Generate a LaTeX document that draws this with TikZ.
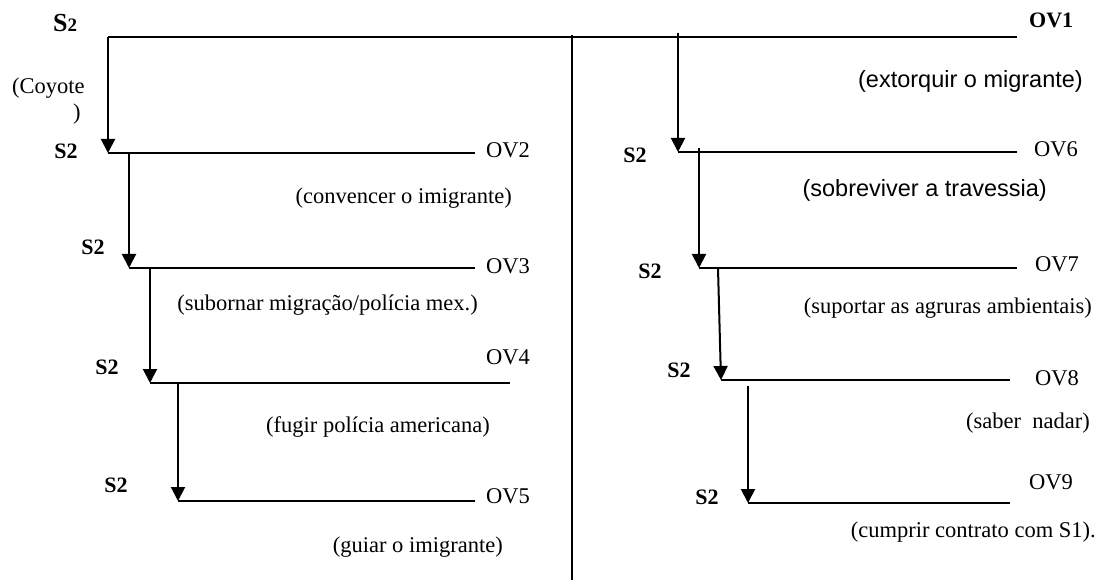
\documentclass[tikz,border=0pt]{standalone}
\usepackage{fontspec}
\setmainfont{Liberation Serif}
\newfontfamily\arialfont{Liberation Sans}
\usetikzlibrary{arrows.meta}
\begin{document}
\begin{tikzpicture}[x=1pt,y=-1pt,
  ln/.style={line width=2pt},
  arr/.style={line width=2pt,-{Triangle[width=14pt,length=14pt]}},
  txt/.style={inner sep=0pt,font=\fontsize{22.5}{26}\selectfont},
  sans/.style={inner sep=0pt,font=\arialfont\fontsize{23.5}{27}\selectfont},
  subj/.style={inner sep=0pt,font=\fontsize{22}{25}\selectfont\bfseries},
]
\useasboundingbox (0,0) rectangle (1109,580);

% coordinates
\coordinate (tl) at (108,37);
\coordinate (tr) at (1017,37);
\coordinate (dv1) at (572,35);
\coordinate (dv2) at (572,580);
% left chain
\coordinate (l2a) at (108,153);  \coordinate (l2b) at (475,153);
\coordinate (a2s) at (129,153);  \coordinate (l3a) at (129,268);  \coordinate (l3b) at (475,268);
\coordinate (a3s) at (150,268);  \coordinate (l4a) at (150,383);  \coordinate (l4b) at (510,383);
\coordinate (a4s) at (178,383);  \coordinate (l5a) at (178,501);  \coordinate (l5b) at (475,501);
% right chain
\coordinate (a5s) at (678,33);   \coordinate (l6a) at (678,152);  \coordinate (l6b) at (1017,152);
\coordinate (a6s) at (699,148);  \coordinate (l7a) at (699,268);  \coordinate (l7b) at (1017,268);
\coordinate (a7s) at (718,268);  \coordinate (l8a) at (721,380);  \coordinate (l8b) at (1010,380);
\coordinate (a8s) at (748,386);  \coordinate (l9a) at (748,503);  \coordinate (l9b) at (1010,503);

% lines
\draw[ln] (tl) -- (tr);
\draw[ln] (dv1) -- (dv2);
\draw[arr] (tl) -- (l2a);
\draw[ln] (l2a) -- (l2b);
\draw[arr] (a2s) -- (l3a);
\draw[ln] (l3a) -- (l3b);
\draw[arr] (a3s) -- (l4a);
\draw[ln] (l4a) -- (l4b);
\draw[arr] (a4s) -- (l5a);
\draw[ln] (l5a) -- (l5b);

\draw[arr] (a5s) -- (l6a);
\draw[ln] (l6a) -- (l6b);
\draw[arr] (a6s) -- (l7a);
\draw[ln] (l7a) -- (l7b);
\draw[arr] (a7s) -- (l8a);
\draw[ln] (l8a) -- (l8b);
\draw[arr] (a8s) -- (l9a);
\draw[ln] (l9a) -- (l9b);

% labels left
\node[inner sep=0pt,anchor=base west] (s0) at (53,32)
  {\fontsize{26}{28}\selectfont\bfseries S\fontsize{19}{22}\selectfont 2};
\node[txt,anchor=west] (coy) at (12,88) {(Coyote};
\node[txt,anchor=west] (coyp) at (73,114) {)};
\node[subj] (s1) at (66,151) {S2};
\node[subj] (s2) at (93,247) {S2};
\node[subj] (s3) at (107,367) {S2};
\node[subj] (s4) at (116,485) {S2};
\node[txt,anchor=west] (ov2) at (486,150) {OV2};
\node[txt,anchor=west] (ov3) at (486,266) {OV3};
\node[txt,anchor=west] (ov4) at (486,357) {OV4};
\node[txt,anchor=west] (ov5) at (486,496) {OV5};
\node[txt,anchor=east] (t2) at (512,198) {(convencer o imigrante)};
\node[txt,anchor=east] (t3) at (478,305) {(subornar migração/polícia mex.)};
\node[txt,anchor=east] (t4) at (490,427) {(fugir polícia americana)};
\node[txt,anchor=east] (t5) at (503,547) {(guiar o imigrante)};

% labels right
\node[subj,anchor=west] (ov1) at (1029,20) {OV1};
\node[sans,anchor=east] (t1) at (1083,81) {(extorquir o migrante)};
\node[subj] (s6) at (635,155) {S2};
\node[subj] (s7) at (650,271) {S2};
\node[subj] (s8) at (679,370) {S2};
\node[subj] (s9) at (707,497) {S2};
\node[txt,anchor=west] (ov6) at (1034,149) {OV6};
\node[txt,anchor=west] (ov7) at (1035,264) {OV7};
\node[txt,anchor=west] (ov8) at (1035,378) {OV8};
\node[txt,anchor=west] (ov9) at (1029,482) {OV9};
\node[sans,anchor=east] (t6) at (1047,190) {(sobreviver a travessia)};
\node[txt,anchor=east] (t7) at (1092,308) {(suportar as agruras ambientais)};
\node[txt,anchor=east] (t8) at (1090,423) {(saber\ \ nadar)};
\node[txt,anchor=east] (t9) at (1096,532) {(cumprir contrato com S1).};
\end{tikzpicture}
\end{document}
